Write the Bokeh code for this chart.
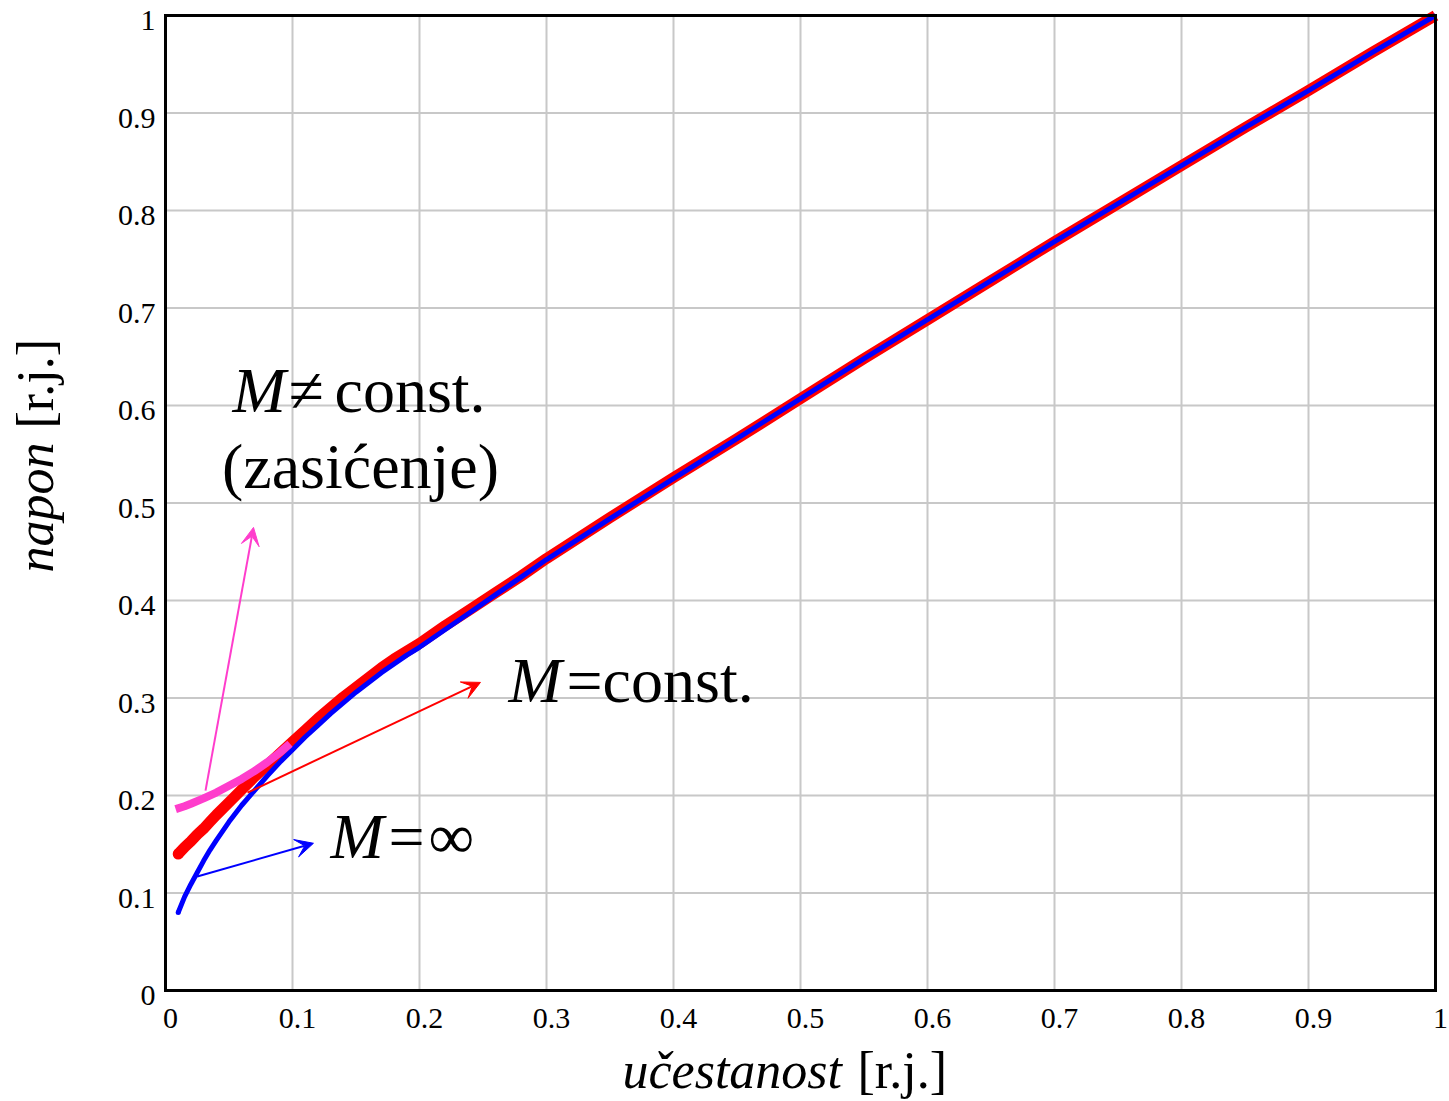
import math
from bokeh.plotting import figure
from bokeh.models import Label, Arrow, VeeHead, FixedTicker, Range1d, LinearAxis
from bokeh.embed import file_html
from bokeh.resources import INLINE

# ---------------- data ----------------
freq = [0.01, 0.015, 0.02, 0.025, 0.03, 0.035, 0.04, 0.05, 0.06, 0.07, 0.08, 0.09,
        0.10, 0.11, 0.12, 0.13, 0.14, 0.15, 0.16, 0.17, 0.18, 0.19, 0.20,
        0.22, 0.24, 0.26, 0.28, 0.30, 0.35, 0.40, 0.45, 0.50, 0.55, 0.60,
        0.65, 0.70, 0.75, 0.80, 0.85, 0.90, 0.95, 1.00]
# M = infinity (blue)
v_inf = [0.080, 0.096, 0.109, 0.121, 0.133, 0.144, 0.154, 0.173, 0.190, 0.205, 0.220, 0.234,
         0.247, 0.260, 0.272, 0.284, 0.295, 0.306, 0.316, 0.326, 0.335, 0.344, 0.352,
         0.370, 0.388, 0.406, 0.424, 0.442, 0.484, 0.525, 0.566, 0.607, 0.648, 0.688,
         0.728, 0.768, 0.807, 0.846, 0.885, 0.923, 0.962, 1.000]
# M = const. (red)
v_const = [0.140, 0.147, 0.153, 0.160, 0.166, 0.173, 0.180, 0.193, 0.206, 0.219, 0.231, 0.243,
           0.255, 0.267, 0.279, 0.290, 0.301, 0.311, 0.321, 0.331, 0.340, 0.348, 0.356,
           0.374, 0.391, 0.408, 0.425, 0.443, 0.485, 0.526, 0.566, 0.607, 0.648, 0.688,
           0.728, 0.768, 0.807, 0.846, 0.885, 0.923, 0.962, 1.000]
# M != const. (saturation, magenta)
freq_sat = [0.008, 0.015, 0.02, 0.03, 0.04, 0.05, 0.06, 0.07, 0.08, 0.09, 0.098]
v_sat = [0.186, 0.189, 0.1915, 0.197, 0.203, 0.210, 0.217, 0.225, 0.234, 0.244, 0.253]

ticks = [0, 0.1, 0.2, 0.3, 0.4, 0.5, 0.6, 0.7, 0.8, 0.9, 1]
tick_labels = ["0", "0.1", "0.2", "0.3", "0.4", "0.5", "0.6", "0.7", "0.8", "0.9", "1"]

# arrows: (x_start, y_start, x_end, y_end)
arrow_sat = (0.0315, 0.205, 0.0693, 0.475)
arrow_const = (0.0646, 0.203, 0.248, 0.316)
arrow_inf = (0.025, 0.117, 0.1165, 0.151)

# ---------------- layout ----------------
W, H = 1449, 1101
L, R, T, B = 165, 1435, 15, 990          # pixel box of the 0..1 data square
FONT = "Liberation Serif"
RED, BLUE, MAG = "#ff0000", "#0000ff", "#ff3dcc"
GRID = "#c8c8c8"

# the frame covers the whole canvas; axes are pinned at 0 / 1 with fixed_location
x_range = Range1d(-L / (R - L), (W - L) / (R - L))
y_range = Range1d((B - H) / (B - T), B / (B - T))

p = figure(width=W, height=H, x_range=x_range, y_range=y_range,
           output_backend="svg", toolbar_location=None,
           min_border=0, min_border_left=0, min_border_right=0,
           min_border_top=0, min_border_bottom=0)
p.title.text = ""
p.title.visible = False
p.background_fill_color = "white"
p.border_fill_color = "white"
p.outline_line_color = None
p.grid.visible = False

# grid lines drawn from the tick list, limited to the 0..1 square
lo, hi = ticks[0], ticks[-1]
p.segment(x0=ticks, y0=[lo] * len(ticks), x1=ticks, y1=[hi] * len(ticks),
          line_color=GRID, line_width=2)
p.segment(x0=[lo] * len(ticks), y0=ticks, x1=[hi] * len(ticks), y1=ticks,
          line_color=GRID, line_width=2)

# tick-label axes (labels sit slightly right / below their grid lines in the reference)
sx_shift = 5 / (R - L)
sy_shift = 5 / (B - T)
xt = [t + sx_shift for t in ticks]
yt = [t - sy_shift for t in ticks]
xa, ya = p.xaxis[0], p.yaxis[0]
xa.ticker = FixedTicker(ticks=xt)
xa.major_label_overrides = {a: s for a, s in zip(xt, tick_labels)}
ya.ticker = FixedTicker(ticks=yt)
ya.major_label_overrides = {a: s for a, s in zip(yt, tick_labels)}
for ax in (xa, ya):
    ax.fixed_location = 0
    ax.axis_line_color = None
    ax.major_tick_line_color = None
    ax.minor_tick_line_color = None
    ax.major_label_text_font = FONT
    ax.major_label_text_font_size = "30px"
    ax.major_label_text_color = "black"
xa.major_label_standoff = 12
ya.major_label_standoff = 4

# ---------------- curves ----------------
p.line(freq, v_const, line_color=RED, line_width=11, line_cap="butt", line_join="round")
p.scatter(freq[:1], v_const[:1], size=11, marker="circle", fill_color=RED, line_color=None)
p.line(freq, v_inf, line_color=BLUE, line_width=5, line_cap="butt", line_join="round")
p.scatter(freq[:1], v_inf[:1], size=5, marker="circle", fill_color=BLUE, line_color=None)
p.line(freq_sat, v_sat, line_color=MAG, line_width=8, line_cap="butt", line_join="round")

# box lines (plain axes without ticks or labels), drawn above the curves
for side, loc in (("left", lo), ("below", lo), ("right", hi), ("above", hi)):
    ax = LinearAxis(fixed_location=loc, bounds=(lo, hi), ticker=FixedTicker(ticks=[]),
                    axis_line_color="black", axis_line_width=3, axis_line_cap="square",
                    major_tick_line_color=None, minor_tick_line_color=None,
                    major_label_text_color=None)
    p.add_layout(ax, side)

# ---------------- arrows ----------------
for (x0, y0, x1, y1), c in ((arrow_sat, MAG), (arrow_const, RED), (arrow_inf, BLUE)):
    p.add_layout(Arrow(end=VeeHead(size=18, fill_color=c, line_color=c, line_width=1),
                       x_start=x0, y_start=y0, x_end=x1, y_end=y1,
                       line_color=c, line_width=2))

# ---------------- texts ----------------
def dx(px):
    return (px - L) / (R - L)

def dy(py):
    return (B - py) / (B - T)

def lab(text, px, py, size=64, italic=False, angle=0.0, align="left"):
    # empirical baseline correction (alphabetic baseline lands ~0.34em lower)
    off = 0.34 * size
    if angle:
        px = px - off
    else:
        py = py - off
    p.add_layout(Label(x=dx(px), y=dy(py), text=text, text_font=FONT,
                       text_font_size=f"{size}px",
                       text_font_style="italic" if italic else "normal",
                       text_color="black", text_align=align,
                       text_baseline="alphabetic", angle=angle))

# M != const. (zasicenje)
lab("M", 232, 412, italic=True)
lab("\u2260", 288, 412)
lab("const.", 334, 412)
lab("(zasićenje)", 360, 488, align="center")
# M = const.
lab("M", 508, 702, italic=True)
lab("=const.", 566, 702)
# M = inf
lab("M", 330, 858, italic=True)
lab("=", 388, 858)
lab("\u221e", 428, 858)

# axis titles
lab("napon", 53, 572, size=52, italic=True, angle=math.pi / 2)
lab("[r.j.]", 53, 428, size=52, angle=math.pi / 2)
lab("učestanost", 622, 1088, size=52, italic=True)
lab("[r.j.]", 857, 1088, size=52)

open("out.html", "w").write(file_html(p, INLINE))
